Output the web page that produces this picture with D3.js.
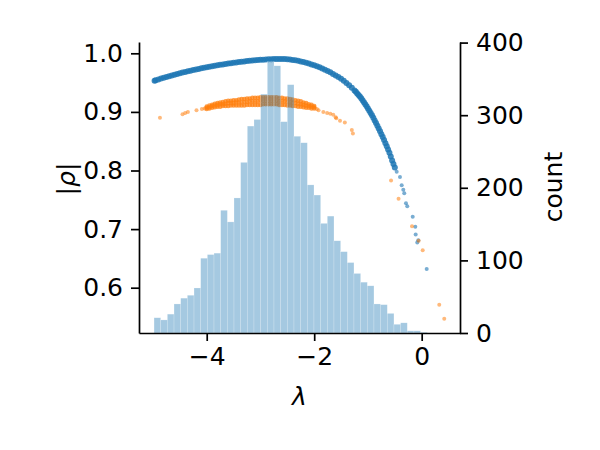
<!DOCTYPE html>
<html>
<head>
<meta charset="utf-8">
<script src="https://cdn.jsdelivr.net/npm/d3@7"></script>
<style>
  body { margin: 0; background: #fff; }
  svg text { font-family: "DejaVu Sans", sans-serif; fill: #000; }
</style>
</head>
<body>
<svg id="chart" width="600" height="450"></svg>
<script>
// histogram of lambda (41 equal bins between histLo and histHi)
var histLo = -4.98, histHi = 0.104;
var histCounts = [21, 18, 26, 40, 48, 52, 62, 103, 108, 110,
                  169, 153, 186, 235, 285, 294, 329, 374, 368, 291,
                  342, 271, 262, 204, 190, 151, 161, 127, 112, 97,
                  82, 70, 65, 40, 39, 27, 12, 14, 3, 3, 1];

// |rho| vs lambda, first series (blue): dense band then stray points
var blueBand = [
  [-4.97, 0.9532], [-4.95, 0.9540], [-4.90, 0.9555], [-4.85, 0.9569], [-4.80, 0.9583],
  [-4.75, 0.9596], [-4.70, 0.9610], [-4.65, 0.9623], [-4.60, 0.9636], [-4.55, 0.9648],
  [-4.50, 0.9660], [-4.45, 0.9671], [-4.40, 0.9682], [-4.35, 0.9693], [-4.30, 0.9704],
  [-4.25, 0.9714], [-4.20, 0.9724], [-4.15, 0.9734], [-4.10, 0.9743], [-4.05, 0.9752],
  [-4.00, 0.9761], [-3.95, 0.9770], [-3.90, 0.9779], [-3.85, 0.9787], [-3.80, 0.9795],
  [-3.75, 0.9803], [-3.70, 0.9810], [-3.65, 0.9817], [-3.60, 0.9824], [-3.55, 0.9831],
  [-3.50, 0.9838], [-3.45, 0.9844], [-3.40, 0.9850], [-3.35, 0.9856], [-3.30, 0.9862],
  [-3.25, 0.9867], [-3.20, 0.9872], [-3.15, 0.9877], [-3.10, 0.9881], [-3.05, 0.9885],
  [-3.00, 0.9889], [-2.95, 0.9892], [-2.90, 0.9895], [-2.85, 0.9898], [-2.80, 0.9900],
  [-2.75, 0.9901], [-2.70, 0.9902], [-2.65, 0.9903], [-2.60, 0.9903], [-2.55, 0.9901],
  [-2.50, 0.9898], [-2.45, 0.9893], [-2.40, 0.9887], [-2.35, 0.9880], [-2.30, 0.9871],
  [-2.25, 0.9861], [-2.20, 0.9850], [-2.15, 0.9838], [-2.10, 0.9825], [-2.05, 0.9811],
  [-2.00, 0.9796], [-1.95, 0.9780], [-1.90, 0.9762], [-1.85, 0.9742], [-1.80, 0.9721],
  [-1.75, 0.9699], [-1.70, 0.9675], [-1.65, 0.9649], [-1.60, 0.9622], [-1.55, 0.9594],
  [-1.50, 0.9564], [-1.45, 0.9531], [-1.40, 0.9495], [-1.35, 0.9456], [-1.30, 0.9413],
  [-1.25, 0.9366], [-1.225, 0.9342], [-1.20, 0.9316], [-1.175, 0.9290], [-1.15, 0.9262],
  [-1.125, 0.9232], [-1.10, 0.9200], [-1.075, 0.9166], [-1.05, 0.9132], [-1.025, 0.9096],
  [-1.00, 0.9059], [-0.975, 0.9021], [-0.95, 0.8982], [-0.925, 0.8941], [-0.90, 0.8899],
  [-0.875, 0.8855], [-0.85, 0.8810], [-0.825, 0.8764], [-0.80, 0.8717], [-0.775, 0.8669],
  [-0.75, 0.8620], [-0.725, 0.8570], [-0.70, 0.8519], [-0.675, 0.8467], [-0.65, 0.8414],
  [-0.625, 0.8360], [-0.60, 0.8305], [-0.575, 0.8240], [-0.55, 0.8170], [-0.525, 0.8110],
  [-0.50, 0.8050]
];
var blueSparse = [
  [-0.465, 0.798], [-0.404, 0.789], [-0.372, 0.775], [-0.342, 0.767], [-0.324, 0.761],
  [-0.292, 0.744], [-0.268, 0.739], [-0.167, 0.721], [-0.119, 0.704], [-0.112, 0.691],
  [-0.063, 0.681], [-0.082, 0.677], [0.093, 0.632]
];

// second series (orange): band rows [lambda, upper, middle, lower], then stray points
var orangeBand = [
  [-4.00, 0.909, 0.907, 0.905], [-3.95, 0.911, 0.908, 0.906], [-3.90, 0.912, 0.910, 0.907],
  [-3.85, 0.914, 0.911, 0.908], [-3.80, 0.915, 0.912, 0.909], [-3.75, 0.916, 0.913, 0.909],
  [-3.70, 0.917, 0.913, 0.910], [-3.65, 0.918, 0.914, 0.910], [-3.60, 0.919, 0.915, 0.910],
  [-3.55, 0.919, 0.915, 0.911], [-3.50, 0.920, 0.915, 0.911], [-3.45, 0.920, 0.916, 0.911],
  [-3.40, 0.921, 0.916, 0.911], [-3.35, 0.922, 0.916, 0.911], [-3.30, 0.922, 0.917, 0.911],
  [-3.25, 0.923, 0.917, 0.912], [-3.20, 0.923, 0.918, 0.912], [-3.15, 0.924, 0.918, 0.912],
  [-3.10, 0.924, 0.918, 0.912], [-3.05, 0.924, 0.918, 0.912], [-3.00, 0.925, 0.919, 0.912],
  [-2.95, 0.925, 0.919, 0.913], [-2.90, 0.925, 0.919, 0.913], [-2.85, 0.925, 0.919, 0.913],
  [-2.80, 0.925, 0.919, 0.913], [-2.75, 0.925, 0.919, 0.913], [-2.70, 0.925, 0.919, 0.913],
  [-2.65, 0.924, 0.918, 0.912], [-2.60, 0.924, 0.918, 0.912], [-2.55, 0.923, 0.918, 0.912],
  [-2.50, 0.923, 0.917, 0.911], [-2.45, 0.922, 0.916, 0.911], [-2.40, 0.921, 0.916, 0.910],
  [-2.35, 0.920, 0.915, 0.910], [-2.30, 0.919, 0.914, 0.909], [-2.25, 0.918, 0.913, 0.909],
  [-2.20, 0.916, 0.912, 0.908], [-2.15, 0.915, 0.911, 0.907], [-2.10, 0.913, 0.910, 0.907],
  [-2.05, 0.912, 0.909, 0.906], [-2.00, 0.910, 0.908, 0.906]
];
var orangeSparse = [
  [-4.87, 0.890], [-4.45, 0.896], [-4.40, 0.898], [-4.35, 0.900], [-4.19, 0.903],
  [-4.09, 0.905], [-4.04, 0.906], [-1.95, 0.905], [-1.92, 0.903], [-1.83, 0.900],
  [-1.76, 0.898], [-1.70, 0.897], [-1.645, 0.895], [-1.60, 0.891], [-1.59, 0.889],
  [-1.52, 0.885], [-1.43, 0.882], [-1.30, 0.869], [-1.28, 0.863], [-0.57, 0.783],
  [-0.43, 0.752], [-0.18, 0.705], [-0.056, 0.680], [0.019, 0.664], [0.327, 0.571],
  [0.420, 0.547]
];

var xTicks = [-4, -2, 0];
var rhoTicks = [0.6, 0.7, 0.8, 0.9, 1.0];
var countTicks = [0, 100, 200, 300, 400];

var blue = "#1f77b4", orange = "#ff7f0e";
var plotL = 139, plotR = 460, plotT = 42, plotB = 333;
var fontPx = 25;

var svg = d3.select("#chart");

var x = d3.scaleLinear().domain([-5.26, 0.713]).range([plotL, plotR]);
var y = d3.scaleLinear().domain([0.5227, 1.0193]).range([plotB, plotT]);
var yc = d3.scaleLinear().domain([0, 400.8]).range([plotB, plotT]);

// scatter first, the twin-axis histogram is drawn over it
var pts = svg.append("g");
pts.selectAll("circle.bb").data(blueBand).enter().append("circle")
  .attr("class", "bb")
  .attr("cx", d => x(d[0])).attr("cy", d => y(d[1])).attr("r", 3.0)
  .attr("fill", blue).attr("fill-opacity", 0.85);
pts.selectAll("circle.bs").data(blueSparse).enter().append("circle")
  .attr("class", "bs")
  .attr("cx", d => x(d[0])).attr("cy", d => y(d[1])).attr("r", 2.0)
  .attr("fill", blue).attr("fill-opacity", 0.6);

var orangeFlat = [];
orangeBand.forEach(function(r) {
  orangeFlat.push([r[0], r[1]], [r[0], r[2]], [r[0], r[3]]);
});
pts.selectAll("circle.ob").data(orangeFlat).enter().append("circle")
  .attr("class", "ob")
  .attr("cx", d => x(d[0])).attr("cy", d => y(d[1])).attr("r", 2.3)
  .attr("fill", orange).attr("fill-opacity", 0.75);
pts.selectAll("circle.os").data(orangeSparse).enter().append("circle")
  .attr("class", "os")
  .attr("cx", d => x(d[0])).attr("cy", d => y(d[1])).attr("r", 2.0)
  .attr("fill", orange).attr("fill-opacity", 0.55);

// histogram
var binW = (histHi - histLo) / histCounts.length;
svg.append("g").selectAll("rect").data(histCounts).enter().append("rect")
  .attr("x", (d, i) => x(histLo + i * binW))
  .attr("width", (d, i) => x(histLo + (i + 1) * binW) - x(histLo + i * binW))
  .attr("y", d => yc(d))
  .attr("height", d => plotB - yc(d))
  .attr("fill", blue).attr("fill-opacity", 0.4)
  .attr("stroke", "#fff").attr("stroke-opacity", 0.4).attr("stroke-width", 0.5);

// axes
function styleAxis(g) {
  g.attr("font-size", fontPx).attr("font-family", "DejaVu Sans");
  g.select(".domain").attr("stroke", "#000").attr("stroke-width", 1.7);
  g.selectAll(".tick line").attr("stroke", "#000").attr("stroke-width", 1.7);
  g.selectAll(".tick text").attr("fill", "#000");
}

svg.append("g").attr("transform", "translate(0," + plotB + ")")
  .call(d3.axisBottom(x).tickValues(xTicks).tickFormat(d3.format("d"))
        .tickSizeInner(8).tickSizeOuter(0).tickPadding(6))
  .call(styleAxis);

svg.append("g").attr("transform", "translate(" + plotL + ",0)")
  .call(d3.axisLeft(y).tickValues(rhoTicks).tickFormat(d3.format(".1f"))
        .tickSizeInner(8).tickSizeOuter(0).tickPadding(8))
  .call(styleAxis);

svg.append("g").attr("transform", "translate(" + plotR + ",0)")
  .call(d3.axisRight(yc).tickValues(countTicks).tickFormat(d3.format("d"))
        .tickSizeInner(8).tickSizeOuter(0).tickPadding(8))
  .call(styleAxis);

// axis labels
svg.append("text").attr("x", (plotL + plotR) / 2).attr("y", 405)
  .attr("text-anchor", "middle").attr("font-size", fontPx)
  .attr("font-style", "italic").text("λ");

var rhoLabel = svg.append("text").attr("transform", "translate(75,179) rotate(-90)")
  .attr("text-anchor", "middle").attr("font-size", fontPx);
rhoLabel.append("tspan").text("|");
rhoLabel.append("tspan").attr("font-style", "italic").text("ρ");
rhoLabel.append("tspan").text("|");

svg.append("text").attr("transform", "translate(562,187) rotate(-90)")
  .attr("text-anchor", "middle").attr("font-size", fontPx)
  .text("count");
</script>
</body>
</html>
